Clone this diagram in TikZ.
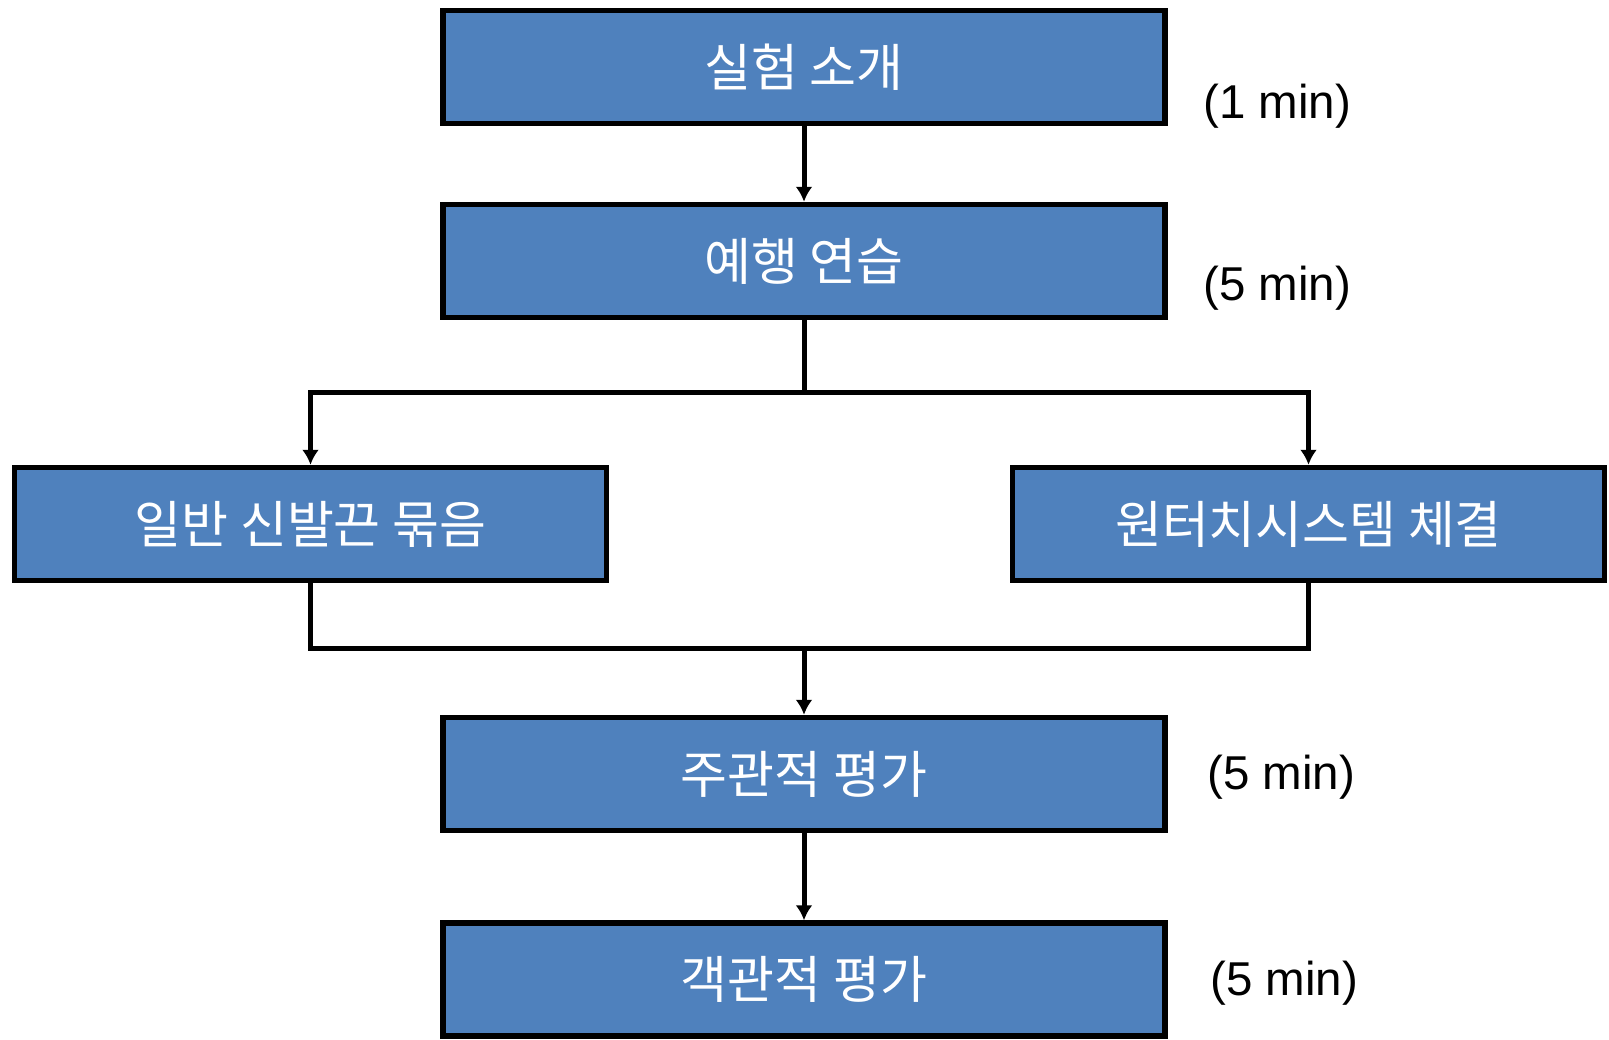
\documentclass[tikz,border=0pt]{standalone}
\usepackage{fontspec}
\usetikzlibrary{arrows.meta}
\setmainfont{Liberation Sans}
\newfontfamily\kofont{Noto Sans CJK KR}
\definecolor{boxblue}{RGB}{79,129,189}
\tikzset{
  stepbox/.style={draw=black,line width=5.5pt,fill=boxblue,text=white,
    minimum height=113pt,inner sep=0pt,font=\kofont\fontsize{51}{56}\selectfont},
  midbox/.style={stepbox,minimum width=722pt},
  sidebox/.style={stepbox,minimum width=592pt},
  timelabel/.style={anchor=west,inner sep=0pt,font=\fontsize{47.5}{52}\selectfont},
  link/.style={line width=5pt},
}
\begin{document}
\begin{tikzpicture}[x=1pt,y=-1pt,>={Latex[length=15pt,width=17pt]}]
\useasboundingbox (0,0) rectangle (1609,1039);
% boxes
\node[midbox] (intro) at (804,67) {실험 소개};
\node[midbox] (prac) at (804,261) {예행 연습};
\node[sidebox] (gen) at (310.5,524) {일반 신발끈 묶음};
\node[sidebox] (wt) at (1308.5,524) {원터치시스템 체결};
\node[midbox] (subj) at (804,774) {주관적 평가};
\node[midbox] (obj) at (804,979.5) {객관적 평가};
% times
\node[timelabel] (t1) at (1203,106) {(1 min)};
\node[timelabel] (t2) at (1203,288) {(5 min)};
\node[timelabel] (t3) at (1207,777) {(5 min)};
\node[timelabel] (t4) at (1210,983) {(5 min)};
% connectors
\coordinate (split) at (804,392);
\coordinate (merge) at (804,648);
\draw[link,->] (intro) -- (prac);
\draw[link] (prac.south) -- (split);
\draw[link,->] (split) -| (gen.north);
\draw[link,->] (split) -| (wt.north);
\draw[link] (gen.south) |- (merge);
\draw[link] (wt.south) |- (merge);
\draw[link,->] (merge) -- (subj.north);
\draw[link,->] (subj) -- (obj);
\end{tikzpicture}
\end{document}
